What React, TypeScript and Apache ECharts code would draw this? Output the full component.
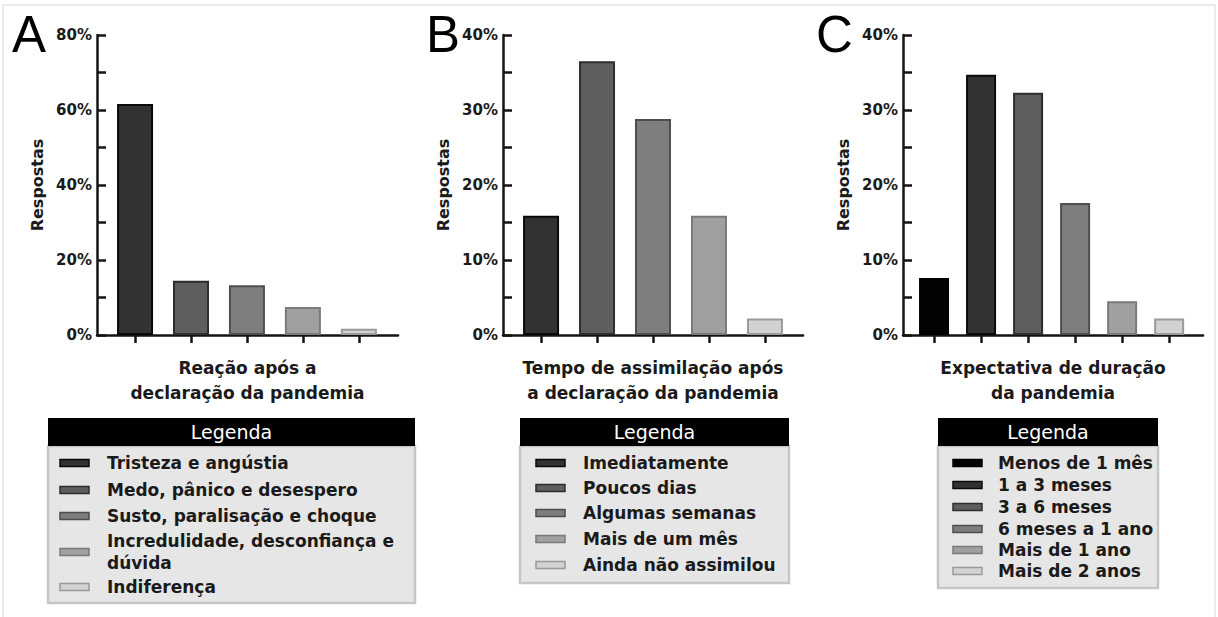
import React, { useEffect, useRef } from "react";
import * as echarts from "echarts";

// ---- Data ----
const categoriesA = [
  "Tristeza e angústia",
  "Medo, pânico e desespero",
  "Susto, paralisação e choque",
  "Incredulidade, desconfiança e\ndúvida",
  "Indiferença",
];
const valuesA = [61.6, 14.5, 13.3, 7.5, 1.7];

const categoriesB = [
  "Imediatamente",
  "Poucos dias",
  "Algumas semanas",
  "Mais de um mês",
  "Ainda não assimilou",
];
const valuesB = [15.9, 36.5, 28.8, 15.9, 2.2];

const categoriesC = [
  "Menos de 1 mês",
  "1 a 3 meses",
  "3 a 6 meses",
  "6 meses a 1 ano",
  "Mais de 1 ano",
  "Mais de 2 anos",
];
const valuesC = [7.6, 34.7, 32.3, 17.6, 4.5, 2.2];

const yTicksA = [0, 20, 40, 60, 80];
const yTicksBC = [0, 10, 20, 30, 40];

const axisNameA = "Reação após a\ndeclaração da pandemia";
const axisNameB = "Tempo de assimilação após\na declaração da pandemia";
const axisNameC = "Expectativa de duração\nda pandemia";
const yName = "Respostas";
const legendTitle = "Legenda";

// ---- Styles ----
const fills5 = ["#323232", "#5e5e5e", "#7e7e7e", "#a0a0a0", "#d2d2d2"];
const borders5 = ["#0a0a0a", "#2e2e2e", "#4e4e4e", "#7a7a7a", "#9a9a9a"];
const fills6 = ["#020202", "#323232", "#5e5e5e", "#7e7e7e", "#a0a0a0", "#d2d2d2"];
const borders6 = ["#000000", "#0a0a0a", "#2e2e2e", "#4e4e4e", "#7a7a7a", "#9a9a9a"];

const BOLD = "DejaVu Sans";
const AX = "#141414";

export default function App() {
  const ref = useRef<HTMLDivElement>(null);

  useEffect(() => {
    document.body.style.margin = "0";
    const chart = echarts.init(ref.current!, undefined, { renderer: "svg" });

    const grids = [
      { left: 97, top: 35, width: 301, height: 300 },
      { left: 503, top: 35, width: 300, height: 300 },
      { left: 903, top: 35, width: 300, height: 300 },
    ];

    const mkX = (idx: number, n: number, min: number, max: number, name: string) => ({
      type: "value",
      gridIndex: idx,
      min,
      max,
      axisLine: { show: true, onZero: false, lineStyle: { color: AX, width: 2.5 } },
      axisTick: {
        show: true,
        customValues: Array.from({ length: n }, (_, i) => i),
        length: 8,
        inside: false,
        lineStyle: { color: AX, width: 2.5 },
      },
      axisLabel: { show: false },
      splitLine: { show: false },
      name,
      nameLocation: "middle",
      nameGap: 20,
      nameTextStyle: {
        fontFamily: BOLD,
        fontWeight: "bold",
        fontSize: 17,
        color: "#1a1a1a",
        lineHeight: 25,
        align: "center",
      },
    });

    const mkY = (idx: number, ticks: number[]) => ({
      type: "value",
      gridIndex: idx,
      min: ticks[0],
      max: ticks[ticks.length - 1],
      interval: ticks[1] - ticks[0],
      axisLine: { show: true, onZero: false, lineStyle: { color: AX, width: 2.5 } },
      axisTick: { show: true, inside: true, length: 9, lineStyle: { color: AX, width: 2.5 } },
      minorTick: { show: true, splitNumber: 2, length: 9, lineStyle: { color: AX, width: 2.5 } },
      splitLine: { show: false },
      minorSplitLine: { show: false },
      axisLabel: {
        formatter: (v: number) => `${v}%`,
        fontFamily: BOLD,
        fontWeight: "bold",
        fontSize: 15,
        color: "#1a1a1a",
        margin: 5,
      },
      name: yName,
      nameLocation: "middle",
      nameRotate: 90,
      nameGap: 52,
      nameTextStyle: { fontFamily: BOLD, fontWeight: "bold", fontSize: 16, color: "#1a1a1a" },
    });

    const mkSeries = (idx: number, vals: number[], fills: string[], borders: string[], bw: number) => ({
      type: "bar",
      xAxisIndex: idx,
      yAxisIndex: idx,
      barWidth: bw,
      data: vals.map((v, i) => ({
        value: [i, v],
        itemStyle: { color: fills[i], borderColor: borders[i], borderWidth: 2 },
      })),
    });

    // Legend builder
    const mkLegend = (
      x0: number,
      x1: number,
      bottom: number,
      textX: number,
      swX: number,
      rowYs: number[],
      cats: string[],
      fills: string[],
      borders: string[],
      lineH: number
    ) => {
      const els: any[] = [];
      els.push({
        type: "rect",
        shape: { x: x0, y: 446, width: x1 - x0, height: bottom - 446 },
        style: { fill: "#e6e6e6", stroke: "#c6c6c6", lineWidth: 2.5 },
      });
      els.push({
        type: "rect",
        shape: { x: x0, y: 418, width: x1 - x0, height: 28 },
        style: { fill: "#000" },
      });
      els.push({
        type: "text",
        x: (x0 + x1) / 2,
        y: 432,
        style: {
          text: legendTitle,
          font: "19px 'DejaVu Sans'",
          fill: "#fff",
          textAlign: "center",
          textVerticalAlign: "middle",
        },
      });
      cats.forEach((c, i) => {
        els.push({
          type: "rect",
          shape: { x: swX, y: rowYs[i] - 3.5, width: 29, height: 7 },
          style: { fill: fills[i], stroke: borders[i], lineWidth: 1.5 },
        });
        els.push({
          type: "text",
          x: textX,
          y: rowYs[i],
          style: {
            text: c,
            font: `bold 17px '${BOLD}'`,
            fill: "#1a1a1a",
            textAlign: "left",
            textVerticalAlign: "middle",
            lineHeight: lineH,
          },
        });
      });
      return els;
    };

    const letters = [
      { t: "A", x: 12 },
      { t: "B", x: 426 },
      { t: "C", x: 816 },
    ].map((l) => ({
      type: "text",
      x: l.x,
      y: 34,
      style: {
        text: l.t,
        font: "51px 'Liberation Sans'",
        fill: "#000",
        textAlign: "left",
        textVerticalAlign: "middle",
      },
    }));

    const graphic = [
      {
        type: "rect",
        shape: { x: 3, y: 5, width: 1212, height: 620 },
        style: { fill: "none", stroke: "#e6e6e6", lineWidth: 1.5 },
        z: -10,
      },
      ...letters,
      ...mkLegend(48, 415, 603, 107, 60, [463, 490, 516, 552, 587], categoriesA, fills5, borders5, 22),
      ...mkLegend(520, 789, 583, 583, 536, [463, 488, 513, 539, 565], categoriesB, fills5, borders5, 22),
      ...mkLegend(938, 1158, 588, 998, 953, [463, 485, 507, 529, 550, 571], categoriesC, fills6, borders6, 22),
    ];

    chart.setOption({
      animation: false,
      backgroundColor: "#ffffff",
      grid: grids,
      xAxis: [
        mkX(0, valuesA.length, -0.68, 4.7, axisNameA),
        mkX(1, valuesB.length, -0.68, 4.68, axisNameB),
        mkX(2, valuesC.length, -0.66, 5.72, axisNameC),
      ],
      yAxis: [mkY(0, yTicksA), mkY(1, yTicksBC), mkY(2, yTicksBC)],
      series: [
        mkSeries(0, valuesA, fills5, borders5, 36),
        mkSeries(1, valuesB, fills5, borders5, 36),
        mkSeries(2, valuesC, fills6, borders6, 30),
      ],
      graphic,
    });

    return () => chart.dispose();
  }, []);

  return <div ref={ref} style={{ width: 1218, height: 617 }} />;
}
